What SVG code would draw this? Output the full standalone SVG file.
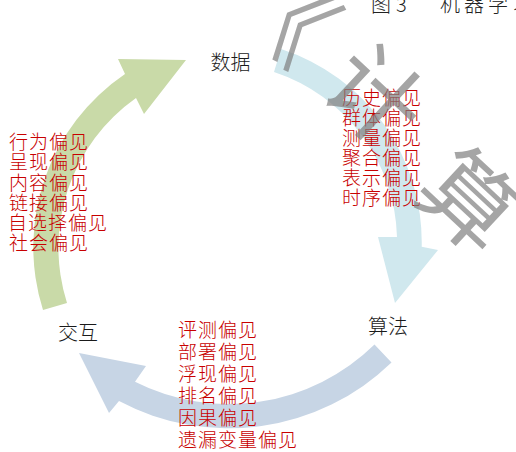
<svg xmlns="http://www.w3.org/2000/svg" width="516" height="452" viewBox="0 0 516 452">
<style>
.lbl{font-family:"Noto Sans CJK SC","Noto Sans CJK JP",sans-serif;font-size:20px;fill:#1a1a1a;font-weight:300}
.bias{font-family:"Noto Sans CJK SC","Noto Sans CJK JP",sans-serif;font-size:19px;letter-spacing:1px;fill:#c80000;font-weight:300}
.hdr{font-family:"Noto Sans CJK SC","Noto Sans CJK JP",sans-serif;font-size:20px;fill:#222;font-weight:300}
.wm{font-family:"Noto Sans CJK SC","Noto Sans CJK JP",sans-serif;font-size:95px;fill:#7f7f7f;fill-opacity:0.7;text-anchor:middle}
</style>
<rect width="516" height="452" fill="#ffffff"/>
<g id="connectors">
  <path id="arrow-interact-data" fill="#c9daa8" d="M43,310 A209,209 0 0 1 125,74 L118,59 L186,60 L144,114 L136,98 A183,183 0 0 0 67,303 Z"/>
  <path id="arrow-data-algo" fill="#d0e8ee" d="M281,49 A203,203 0 0 1 421.7,246.7 L438,250 L395,303 L378,237 L397,237 A179,179 0 0 0 274,72 Z"/>
  <path id="arrow-algo-interact" fill="#c7d5e5" d="M374.5,344.5 A208,208 0 0 1 135,381.7 L146,366 L79,353 L109,413 L119,401 A234,234 0 0 0 391.5,362.5 Z"/>
</g>
<g id="node-data"><text class="lbl" x="210.5" y="70">数据</text></g>
<g id="node-algo"><text class="lbl" x="368" y="333.5">算法</text></g>
<g id="node-interact"><text class="lbl" x="58" y="340">交互</text></g>
<g id="bias-data-algo">
  <text class="bias"><tspan x="342" y="104.5">历史偏见</tspan><tspan x="342" y="124.5">群体偏见</tspan><tspan x="342" y="144.5">测量偏见</tspan><tspan x="342" y="164.5">聚合偏见</tspan><tspan x="342" y="184.5">表示偏见</tspan><tspan x="342" y="204.5">时序偏见</tspan></text>
</g>
<g id="bias-interact-data">
  <text class="bias"><tspan x="9" y="149">行为偏见</tspan><tspan x="9" y="169">呈现偏见</tspan><tspan x="9" y="189.5">内容偏见</tspan><tspan x="9" y="209.5">链接偏见</tspan><tspan x="8" y="230">自选择偏见</tspan><tspan x="9" y="250">社会偏见</tspan></text>
</g>
<g id="bias-algo-interact">
  <text class="bias"><tspan x="178" y="337">评测偏见</tspan><tspan x="178" y="359">部署偏见</tspan><tspan x="178" y="381">浮现偏见</tspan><tspan x="178" y="403">排名偏见</tspan><tspan x="178" y="425">因果偏见</tspan><tspan x="178" y="447">遗漏变量偏见</tspan></text>
</g>
<g id="header">
  <text class="hdr" x="371" y="11.5">图</text>
  <text class="hdr" x="396" y="11.5">3</text>
  <text class="hdr" x="440" y="11.5" letter-spacing="4">机器学习</text>
</g>
<g id="watermark">
  <text class="wm" transform="translate(285,11) rotate(43)" x="0" y="36">《</text>
  <text class="wm" transform="translate(376,95) rotate(43)" x="0" y="36">计</text>
  <text class="wm" transform="translate(470,200) rotate(43)" x="0" y="36">算</text>
  <text class="wm" transform="translate(566,300) rotate(43)" x="0" y="36">机</text>
</g>
</svg>
